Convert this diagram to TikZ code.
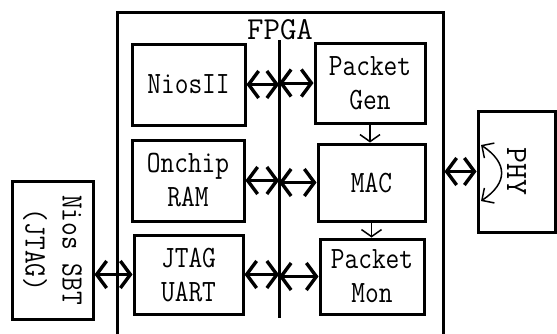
\documentclass[tikz,border=0pt]{standalone}
\usepackage{fontspec}
\newfontfamily\simf[FakeStretch=0.86]{Latin Modern Mono}
\newfontfamily\simw[FakeStretch=1.0]{Latin Modern Mono}
\usetikzlibrary{arrows.meta}
\begin{document}
\begin{tikzpicture}[x=1pt,y=-1pt,
  box/.style={draw,line width=3pt,rectangle,inner sep=0pt,align=center,
    font=\simf\fontsize{31}{34}\selectfont},
  bigarr/.style={line width=3pt,
    {Straight Barb[length=10pt,width=27pt,line width=3.4pt]}-{Straight Barb[length=10pt,width=27pt,line width=3.4pt]}},
  smallarr/.style={line width=1.5pt,-{Straight Barb[length=7pt,width=20pt]}},
  looparr/.style={line width=1.5pt,
    {Straight Barb[length=9pt,width=18pt]}-{Straight Barb[length=9pt,width=18pt]}},
]
\useasboundingbox (0,0) rectangle (557,333);
\clip (0,0) rectangle (557,333);
\fill[white] (0,0) rectangle (557,333);

% FPGA frame (open at the bottom of the view)
\node[draw,line width=3pt,inner sep=0pt,minimum width=326pt,minimum height=380pt] (fpga) at (280,202) {};
\node[font=\simw\fontsize{32}{34}\selectfont,inner sep=0pt] (fpgalbl) at (280,30) {FPGA};

% bus
\coordinate (bustop) at (279,40);
\coordinate (busbot) at (279,318);
\draw[line width=3pt] (bustop) -- (busbot);

% left blocks
\node[box,minimum width=113pt,minimum height=81pt] (nios) at (188.5,84.5) {NiosII};
\node[box,minimum width=112pt,minimum height=81pt] (ram) at (188,180.5) {Onchip\\RAM};
\node[box,minimum width=109pt,minimum height=79pt] (jtag) at (188.5,274.5) {JTAG\\UART};

% right blocks
\node[box,minimum width=110pt,minimum height=80pt] (pgen) at (370,83) {Packet\\Gen};
\node[box,minimum width=107pt,minimum height=77pt] (mac) at (371.5,182.5) {MAC};
\node[box,minimum width=104pt,minimum height=75pt] (pmon) at (372,276.5) {Packet\\Mon};

% external blocks
\node[box,rotate=-90,minimum width=138pt,minimum height=81pt,
  font=\simf\fontsize{31}{37}\selectfont] (sbt) at (52.5,250) {Nios SBT\\(JTAG)};
\node[box,rotate=-90,minimum width=121pt,minimum height=77pt,
  font=\simw\fontsize{31}{34}\selectfont] (phy) at (516.5,171.5) {PHY};

% bus connections
\draw[bigarr] (nios.east) -- (nios.east -| bustop);
\draw[bigarr] (ram.east) -- (ram.east -| bustop);
\draw[bigarr] (jtag.east) -- (jtag.east -| bustop);
\draw[bigarr] (pgen.west -| bustop) -- (pgen.west);
\draw[bigarr] (mac.west -| bustop) -- (mac.west);
\draw[bigarr] (pmon.west -| bustop) -- (pmon.west);

% data path
\draw[smallarr] (pgen.south) -- (pgen.south |- mac.north);
\draw[smallarr] (mac.south) -- (mac.south |- pmon.north);

% external links
\draw[bigarr] (sbt.north |- jtag.west) -- (jtag.west);
\draw[bigarr] (fpga.east |- phy.south) -- (phy.south);

% loopback in PHY
\coordinate (lt) at (481,145);
\coordinate (lb) at (481,201);
\draw[looparr] (lt) .. controls (508,163) and (508,183) .. (lb);
\end{tikzpicture}
\end{document}
